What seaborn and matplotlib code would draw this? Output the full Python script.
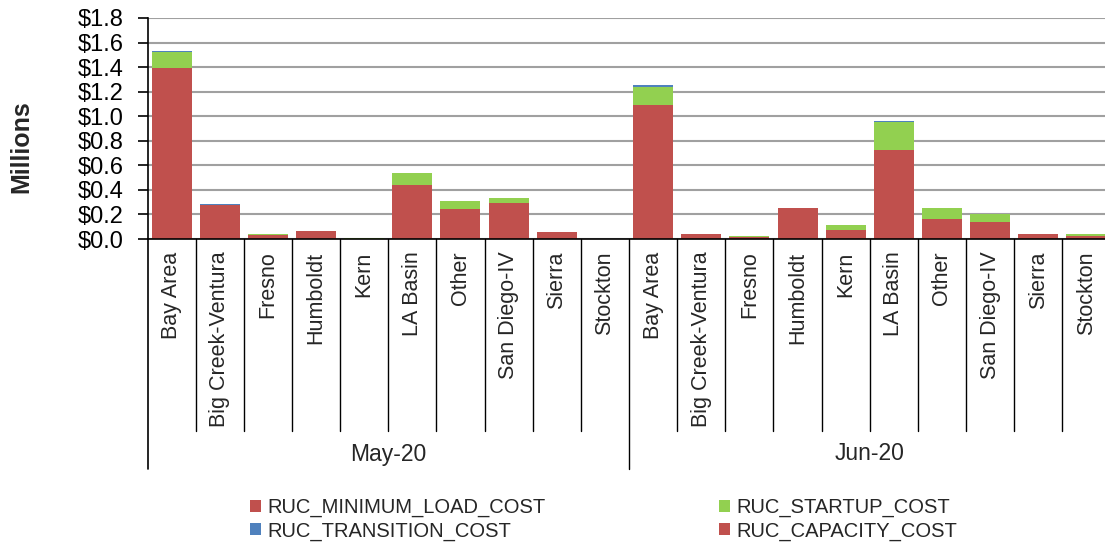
import numpy as np
import pandas as pd
import matplotlib
matplotlib.use("Agg")
import matplotlib.pyplot as plt
import matplotlib.transforms as mtransforms
from matplotlib.patches import Patch
from matplotlib.ticker import FuncFormatter
import seaborn as sns

# ---------------- data ----------------
months = ["May-20", "Jun-20"]
regions = ["Bay Area", "Big Creek-Ventura", "Fresno", "Humboldt", "Kern",
           "LA Basin", "Other", "San Diego-IV", "Sierra", "Stockton"]

# values in $ millions, May-20 regions followed by Jun-20 regions
min_load_cost = [1.395, 0.280, 0.033, 0.065, 0.001, 0.442, 0.244, 0.290, 0.055, 0.000,
                 1.091, 0.038, 0.020, 0.250, 0.076, 0.727, 0.166, 0.141, 0.040, 0.027]
startup_cost = [0.125, 0.000, 0.005, 0.000, 0.007, 0.098, 0.068, 0.041, 0.000, 0.000,
                0.149, 0.000, 0.004, 0.000, 0.038, 0.228, 0.084, 0.060, 0.000, 0.016]
transition_cost = [0.011, 0.004, 0.000, 0.000, 0.000, 0.000, 0.000, 0.000, 0.000, 0.000,
                   0.012, 0.000, 0.000, 0.002, 0.000, 0.006, 0.000, 0.000, 0.000, 0.000]
capacity_cost = [0.000, 0.000, 0.000, 0.000, 0.000, 0.000, 0.000, 0.000, 0.000, 0.000,
                 0.000, 0.000, 0.000, 0.000, 0.000, 0.000, 0.000, 0.000, 0.000, 0.000]

series_names = ["RUC_MINIMUM_LOAD_COST", "RUC_STARTUP_COST",
                "RUC_TRANSITION_COST", "RUC_CAPACITY_COST"]
series_colors = ["#C0504D", "#92D050", "#4F81BD", "#C0504D"]
yticks = [0.0, 0.2, 0.4, 0.6, 0.8, 1.0, 1.2, 1.4, 1.6, 1.8]

# ---------------- table ----------------
keys = [f"{m}|{r}" for m in months for r in regions]
df = pd.DataFrame({
    "key": keys,
    "region": [r for m in months for r in regions],
    "month": [m for m in months for r in regions],
    series_names[0]: min_load_cost,
    series_names[1]: startup_cost,
    series_names[2]: transition_cost,
    series_names[3]: capacity_cost,
})
cum = df[series_names].cumsum(axis=1)

# ---------------- style ----------------
sns.set_style("white")
plt.rcParams["font.family"] = ["Liberation Sans", "DejaVu Sans"]

W, H = 1105, 544
fig = plt.figure(figsize=(W / 100, H / 100), dpi=100)
x0, x1 = 147.5, 1110.5
y_top, y_bot = 18, 239
ax = fig.add_axes([x0 / W, (H - y_bot) / H, (x1 - x0) / W, (y_bot - y_top) / H])

# stacked bars: draw cumulative totals from top layer down
for i in range(len(series_names) - 1, -1, -1):
    sns.barplot(x=df["key"], y=cum[series_names[i]], order=keys,
                color=series_colors[i], saturation=1, width=0.83,
                ax=ax, linewidth=0)

ax.set_ylim(0, 1.8)
ax.set_xlim(-0.5, len(keys) - 0.5)
ax.set_yticks(yticks)
ax.yaxis.set_major_formatter(FuncFormatter(lambda v, p: f"${v:.1f}"))
ax.tick_params(axis="y", which="major", left=True, length=7, width=1.2,
               color="black", direction="out", pad=10, labelsize=17,
               labelcolor="black")
ax.grid(axis="y", color="#A0A0A0", linewidth=1.5)
ax.grid(axis="x", visible=False)
ax.set_axisbelow(True)

for s in ["top", "right"]:
    ax.spines[s].set_visible(False)
for s in ["left", "bottom"]:
    ax.spines[s].set_color("black")
    ax.spines[s].set_linewidth(1.2)

# category tick labels
ax.set_xticks(range(len(keys)))
ax.set_xticklabels(df["region"], rotation=90, fontsize=15.5, va="top", ha="center")
ax.tick_params(axis="x", length=0, pad=9)
ax.set_xlabel("")

ax.set_ylabel("Millions", fontsize=18, fontweight="bold")
ax.yaxis.set_label_coords(-0.118, 0.42)

# category separators and month groups
trans = mtransforms.blended_transform_factory(ax.transData, ax.transAxes)
px = 1.0 / (y_bot - y_top)
inner_bottom = -(431 - y_bot) * px
group_bottom = -(469 - y_bot) * px
for i in range(1, len(keys)):
    bottom = group_bottom if i % len(regions) == 0 else inner_bottom
    ax.plot([i - 0.5, i - 0.5], [0, bottom], color="black", lw=1.0,
            transform=trans, clip_on=False)
ax.plot([-0.5, -0.5], [0, group_bottom], color="black", lw=1.2,
        transform=trans, clip_on=False)
for j, m in enumerate(months):
    ax.text(j * len(regions) + (len(regions) - 1) / 2, -(454 - y_bot) * px, m,
            transform=trans, ha="center", va="center", fontsize=16.5)

# legend (two columns)
h = [Patch(facecolor=c, edgecolor="none") for c in series_colors]
common = dict(loc="upper left", frameon=False, fontsize=14.5, handlelength=0.55,
              handleheight=0.5, handletextpad=0.3, labelspacing=0.2,
              borderpad=0, borderaxespad=0)
leg1 = fig.legend([h[0], h[2]], [series_names[0], series_names[2]],
                  bbox_to_anchor=(250 / W, (H - 498) / H), **common)
leg2 = fig.legend([h[1], h[3]], [series_names[1], series_names[3]],
                  bbox_to_anchor=(719 / W, (H - 498) / H), **common)

fig.savefig("out.png", dpi=100)
